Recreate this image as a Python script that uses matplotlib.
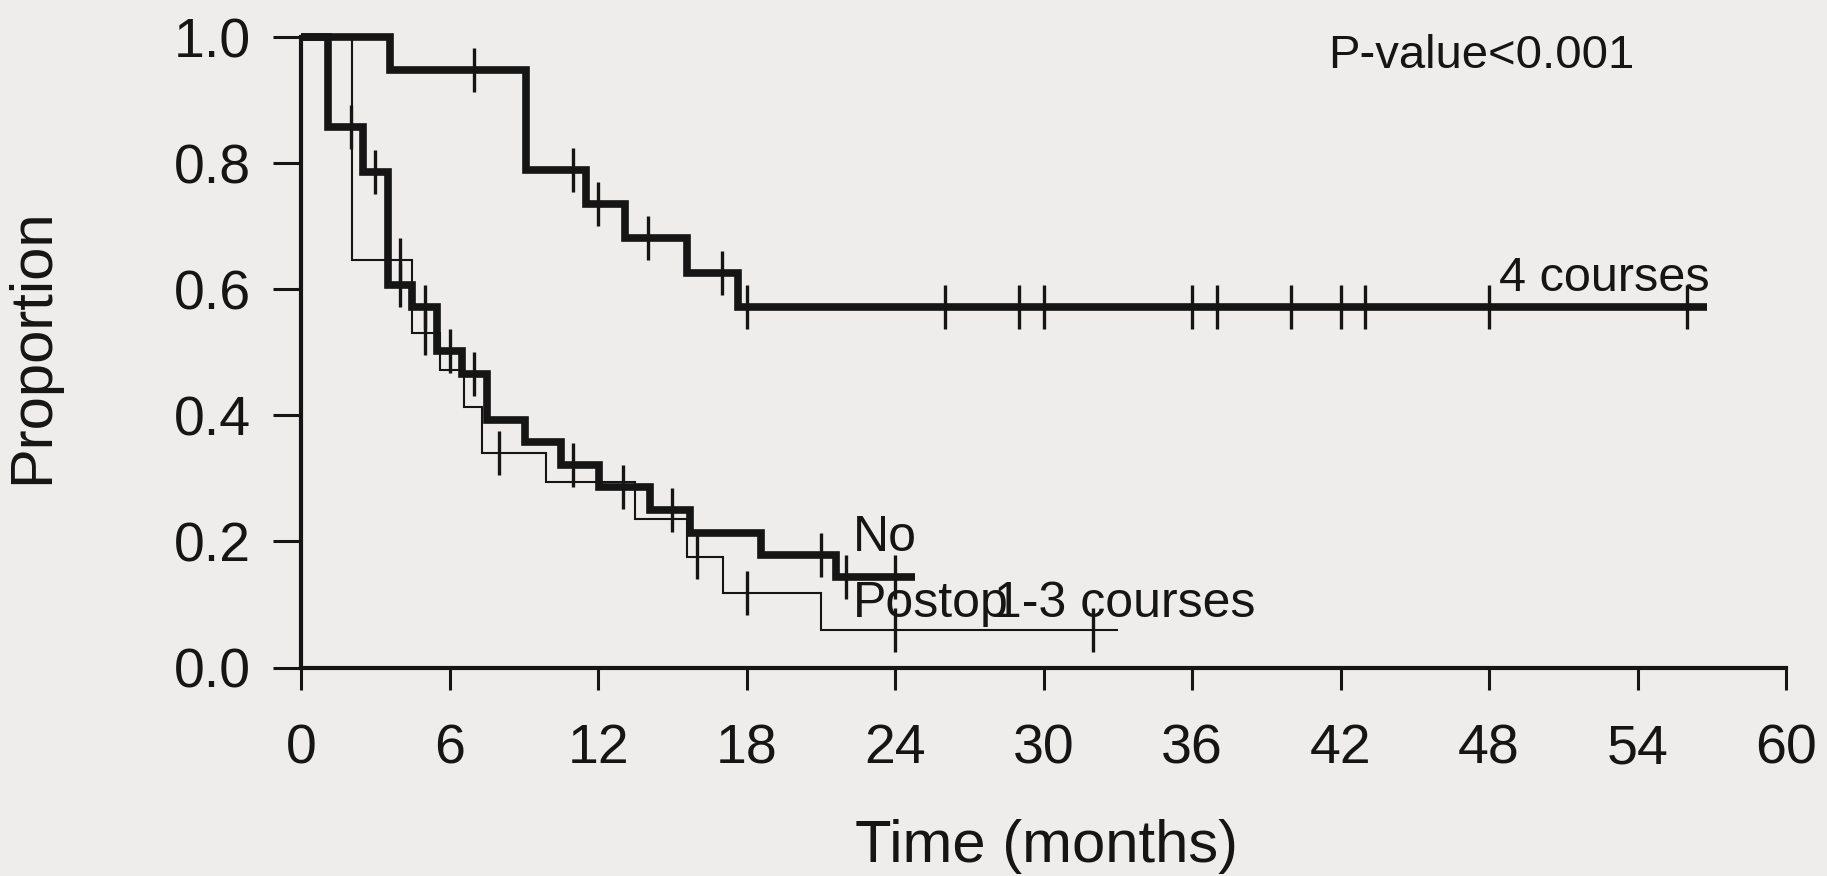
import numpy as np
import matplotlib
matplotlib.use('Agg')
import matplotlib.pyplot as plt

plt.rcParams['font.family'] = ['Liberation Sans', 'DejaVu Sans']

# Kaplan-Meier curves (months, proportion)
four_times = [0, 3.6, 9.1, 11.5, 13.1, 15.6, 17.65, 56.8]
four_surv = [1.0, 0.948, 0.789, 0.735, 0.681, 0.626, 0.572, 0.572]
four_cens = [7, 11, 12, 14, 17, 18, 26, 29, 30, 36, 37, 40, 42, 43, 48, 56]

no_times = [0, 1.1, 2.5, 3.5, 4.5, 5.5, 6.5, 7.5, 9.05, 10.5, 12.05, 14.1, 15.7, 18.6, 21.6, 24.8]
no_surv = [1.0, 0.857, 0.786, 0.607, 0.572, 0.502, 0.466, 0.393, 0.358, 0.321, 0.287,
           0.250, 0.213, 0.178, 0.144, 0.144]
no_cens = [2.0, 3.0, 4.0, 5.0, 6.0, 7.0, 11.0, 13.0, 15.0, 21.0, 22.0, 24.0]

mid_times = [0, 2.05, 4.5, 5.6, 6.6, 7.3, 9.9, 13.5, 15.6, 17.05, 21.0, 33.0]
mid_surv = [1.0, 0.647, 0.530, 0.472, 0.414, 0.341, 0.294, 0.235, 0.176, 0.118, 0.059, 0.059]
mid_cens = [4.0, 5.0, 8.0, 16.0, 18.0, 24.0, 32.0]

x_ticks = [0, 6, 12, 18, 24, 30, 36, 42, 48, 54, 60]
y_ticks = [0.0, 0.2, 0.4, 0.6, 0.8, 1.0]

ink = '#151515'


def surv_at(times, surv, t):
    # value of the step function at time t
    i = np.searchsorted(times, t, side='right') - 1
    return np.array(surv)[i]


def km_curve(ax, times, surv, cens, lw):
    ax.step(times, surv, where='post', color=ink, lw=lw, clip_on=False,
            solid_joinstyle='miter', solid_capstyle='butt')
    cy = [surv_at(times, surv, t) for t in cens]
    ax.plot(cens, cy, ls='none', marker='|', ms=31, mew=2.4, color=ink, clip_on=False)


bg = '#eeedeb'
fig = plt.figure(figsize=(18.27, 8.76), dpi=100, facecolor=bg)
ax = fig.add_axes([0.1648, 0.238, 0.8128, 0.7195], facecolor=bg)

km_curve(ax, mid_times, mid_surv, mid_cens, 1.5)
km_curve(ax, no_times, no_surv, no_cens, 5.5)
km_curve(ax, four_times, four_surv, four_cens, 5.5)

ax.set_xlim(0, 60)
ax.set_ylim(0, 1.0)
ax.set_xticks(x_ticks)
ax.set_xticklabels([str(t) for t in x_ticks])
ax.set_yticks(y_ticks)
ax.set_yticklabels(['%.1f' % v for v in y_ticks])

for s in ['top', 'right']:
    ax.spines[s].set_visible(False)
for s in ['left', 'bottom']:
    ax.spines[s].set_linewidth(3)
    ax.spines[s].set_color(ink)

ax.tick_params(axis='x', length=16, width=2.2, pad=24, labelsize=40, color=ink, labelcolor=ink)
ax.tick_params(axis='y', length=20, width=2.2, pad=16, labelsize=40, color=ink, labelcolor=ink)

ax.set_xlabel('Time (months)', fontsize=43, color=ink)
ax.set_ylabel('Proportion', fontsize=43, color=ink)
ax.xaxis.set_label_coords(0.502, -0.24)
ax.yaxis.set_label_coords(-0.162, 0.51)

# curve labels (the two lower ones overlap in the original too)
ax.text(41.5, 0.951, 'P-value<0.001', fontsize=34, color=ink)
ax.text(48.4, 0.598, '4 courses', fontsize=35, color=ink)
ax.text(22.3, 0.185, 'No', fontsize=36, color=ink)
ax.text(22.3, 0.080, 'Postop', fontsize=36, color=ink)
ax.text(28.0, 0.080, '1-3 courses', fontsize=36, color=ink)

fig.savefig('out.png', dpi=100, facecolor=bg)
